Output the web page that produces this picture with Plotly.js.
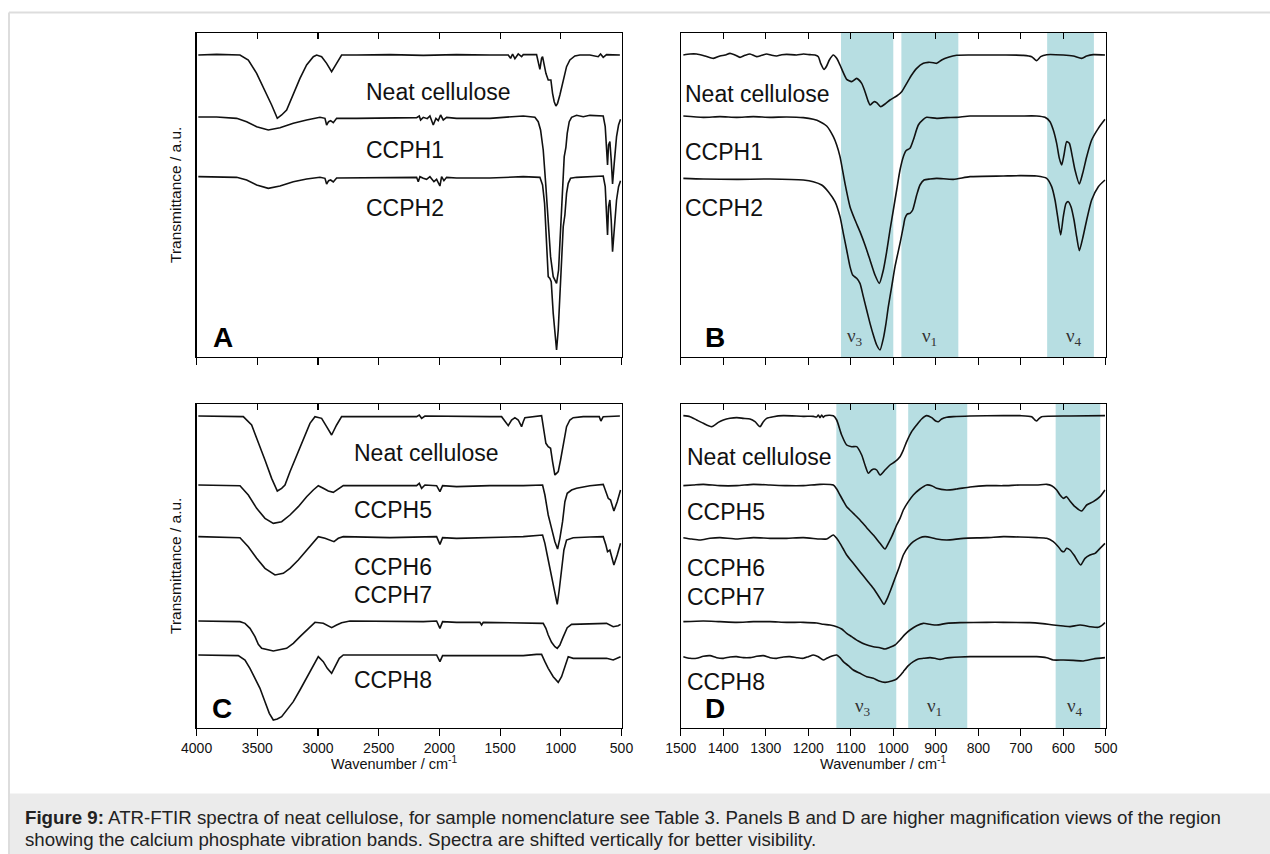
<!DOCTYPE html>
<html>
<head>
<meta charset="utf-8">
<script src="https://cdn.plot.ly/plotly-3.0.1.min.js"></script>
<style>html,body{margin:0;padding:0;background:#fff;}#chart{width:1270px;height:854px;}</style>
</head>
<body>
<div id="chart"></div>
<script>
// ---------- Panel A (4000-500 cm-1) ----------
const A_neat_x = [3985.8,3834.8,3642.7,3574.0,3505.4,3437.0,3381.9,3335.2,3299.5,3258.4,3203.4,3148.5,3093.7,3038.5,3011.3,2970.1,2929.0,2887.8,2846.6,2805.4,2681.9,2407.4,2132.9,1858.4,1583.9,1432.9,1413.7,1397.2,1378.1,1350.6,1323.1,1309.4,1199.6,1180.4,1172.2,1158.4,1150.2,1139.2,1122.7,1103.6,1081.6,1067.9,1054.2,1040.4,1026.7,1007.6,980.0,952.6,925.1,884.0,842.8,760.4,691.8,672.6,650.6,623.2,513.3];
const A_neat_y = [90.6,90.8,90.6,89.1,85.1,80.1,75.6,71.6,72.6,74.1,79.1,83.6,87.6,90.1,90.6,90.1,88.1,85.6,88.1,90.6,90.6,90.7,90.5,90.7,90.6,90.6,89.6,90.9,89.5,90.9,90.1,90.7,90.7,88.1,86.3,89.6,90.1,88.1,85.1,83.1,83.1,79.1,76.6,75.3,76.1,78.6,83.1,87.1,89.1,90.3,90.6,90.6,90.1,90.9,89.9,90.7,90.6];
const A_ccph1_x = [3985.8,3834.8,3670.1,3587.7,3505.4,3409.3,3313.3,3203.4,3093.7,2983.8,2942.7,2929.0,2912.5,2896.0,2874.1,2846.6,2681.9,2407.4,2187.8,2165.8,2154.9,2132.9,2100.0,2078.0,2050.6,2028.6,2009.4,1990.2,1968.2,1940.8,1858.4,1583.9,1309.4,1213.3,1185.9,1166.6,1144.7,1122.7,1103.6,1084.3,1062.4,1034.9,1018.4,1001.9,985.5,971.8,958.0,947.1,930.6,911.4,870.2,815.3,760.4,650.6,634.1,623.2,615.0,606.7,595.7,584.7,573.7,560.0,540.8,524.3,507.8];
const A_ccph1_y = [72.0,72.0,71.6,70.6,69.1,68.1,68.8,70.1,71.1,71.9,71.6,69.6,70.6,70.9,70.3,71.6,71.6,71.8,71.8,72.3,71.1,71.9,71.5,72.3,69.6,71.6,70.9,72.6,71.1,71.9,71.6,71.6,72.3,71.9,70.6,68.1,62.1,51.1,40.1,30.1,24.1,22.1,26.1,38.1,52.1,60.1,62.9,67.1,70.6,71.9,72.5,72.1,72.5,72.3,69.1,60.1,57.6,63.6,64.6,59.1,51.9,58.1,66.1,69.6,71.3];
const A_ccph2_x = [3985.8,3834.8,3670.1,3587.7,3505.4,3409.3,3313.3,3203.4,3093.7,2983.8,2942.7,2929.0,2912.5,2896.0,2874.1,2846.6,2681.9,2407.4,2187.8,2174.1,2160.4,2132.9,2105.5,2078.0,2045.1,2023.1,1995.7,1981.9,1962.7,1940.8,1858.4,1583.9,1309.4,1172.2,1150.2,1133.7,1117.3,1103.6,1089.8,1078.8,1062.4,1048.6,1034.9,1021.2,1007.6,993.7,980.0,966.3,952.6,938.8,919.6,870.2,760.4,650.6,634.1,623.2,615.0,606.7,595.7,584.7,573.7,560.0,540.8,524.3,507.8];
const A_ccph2_y = [54.1,53.9,53.9,53.1,51.6,50.6,51.3,52.6,53.4,53.9,53.6,51.9,52.9,53.1,52.5,53.7,53.7,53.9,53.9,52.6,54.1,53.6,53.3,54.1,52.6,53.3,51.3,54.1,52.9,53.9,53.7,53.7,54.1,53.9,51.6,46.1,36.1,24.1,23.6,22.6,13.1,6.1,2.1,8.1,18.1,28.1,39.1,42.6,49.1,52.1,53.6,53.9,54.1,54.3,51.1,42.1,36.6,45.1,47.1,41.1,31.6,38.1,47.1,51.1,52.9];

// ---------- Panel B (1500-500 cm-1) ----------
const B_neat_x = [1494.0,1478.3,1462.7,1443.1,1423.4,1407.8,1396.0,1384.2,1372.5,1360.7,1349.0,1337.2,1321.5,1309.7,1298.0,1286.2,1274.4,1262.7,1250.9,1227.4,1211.7,1196.0,1184.2,1176.4,1170.9,1163.0,1156.8,1150.5,1141.1,1133.2,1125.4,1117.6,1109.7,1098.0,1086.2,1074.4,1066.6,1058.7,1054.8,1045.4,1039.1,1029.7,1019.5,1007.8,992.1,980.3,968.5,956.8,945.0,929.3,917.6,905.8,898.0,886.2,870.5,850.9,819.5,780.3,741.1,694.1,674.4,662.7,653.3,639.1,600.0,576.4,556.8,545.0,529.4,501.9];
const B_neat_y = [90.6,90.9,90.9,90.3,89.6,90.3,90.6,91.1,90.6,89.9,90.5,90.9,90.1,90.5,90.9,90.5,90.3,90.7,90.8,90.6,90.9,90.7,90.6,90.1,88.1,86.3,87.3,89.1,90.6,89.6,87.6,85.3,83.3,82.6,83.6,82.1,79.6,76.6,75.6,76.6,76.3,75.1,75.9,77.1,78.3,79.6,82.1,84.6,86.6,88.1,88.4,88.3,88.1,89.1,89.9,90.5,90.6,90.6,90.6,90.5,90.1,88.9,90.1,90.7,90.6,90.3,89.6,90.3,90.7,90.6];
const B_ccph1_x = [1494.0,1447.0,1407.8,1368.5,1329.3,1290.1,1250.9,1211.7,1188.2,1172.5,1156.8,1141.1,1133.2,1125.4,1113.7,1101.9,1090.1,1078.4,1066.6,1054.8,1043.1,1032.9,1023.4,1015.6,1007.8,999.9,992.1,984.2,976.4,970.1,960.7,952.9,941.1,929.3,921.5,898.0,874.4,850.9,819.5,780.3,741.1,701.9,662.7,643.1,631.3,623.5,615.6,609.3,603.8,598.4,592.1,585.8,578.7,572.5,562.3,554.4,545.0,533.3,517.6,501.9];
const B_ccph1_y = [72.3,71.9,72.1,71.9,72.1,71.9,72.0,71.8,71.3,70.6,69.3,66.1,63.6,60.1,52.1,45.1,41.1,37.6,33.6,29.1,24.6,22.1,26.1,31.6,38.1,44.1,50.1,56.1,60.1,61.9,62.6,65.1,69.6,71.3,71.9,71.6,71.8,71.9,72.3,72.3,72.3,72.3,72.3,71.9,70.6,68.1,64.1,59.6,57.6,60.6,64.6,64.1,60.1,56.1,51.9,55.1,60.1,65.1,68.6,71.3];
const B_ccph2_x = [1494.0,1447.0,1368.5,1290.1,1211.7,1188.2,1168.5,1152.9,1137.2,1125.4,1117.6,1109.7,1101.9,1095.6,1086.2,1078.4,1070.5,1062.7,1054.8,1047.0,1039.1,1031.3,1023.4,1017.2,1011.7,1003.8,996.0,984.2,976.4,972.5,967.0,960.7,954.4,945.0,937.2,927.8,913.6,898.0,858.7,819.5,741.1,701.9,662.7,639.1,627.4,619.5,613.3,606.2,600.0,593.6,588.2,581.9,574.8,568.6,562.3,554.4,545.0,533.3,517.6,501.9];
const B_ccph2_y = [53.6,53.4,53.3,53.4,53.1,52.6,51.6,49.6,46.6,42.1,37.1,32.1,27.1,24.6,23.6,22.1,18.1,14.1,10.1,6.6,3.6,2.1,5.6,10.1,15.1,21.1,27.1,34.1,39.1,41.6,42.9,43.1,44.1,48.6,51.6,53.1,53.4,53.6,53.3,54.1,54.3,54.4,54.3,53.6,51.1,47.1,42.1,36.6,42.1,46.1,46.6,45.1,41.1,36.1,31.9,35.6,41.1,47.1,51.1,53.1];

// ---------- Panel C (4000-500 cm-1) ----------
const C_neat_x = [3985.8,3779.9,3615.2,3546.6,3491.7,3436.8,3381.9,3335.2,3299.5,3272.1,3230.9,3176.0,3121.1,3066.2,3025.0,2970.1,2929.0,2887.8,2846.6,2805.4,2681.9,2407.4,2187.8,2165.8,2146.6,2119.2,1858.4,1583.9,1487.8,1460.4,1432.9,1405.5,1378.1,1350.6,1323.1,1309.4,1295.7,1158.4,1139.2,1122.7,1103.6,1084.3,1067.9,1048.6,1034.9,1021.2,1002.0,980.0,952.6,925.1,897.7,815.3,683.5,669.8,650.6,513.3];
const C_neat_y = [93.6,93.6,93.4,90.9,85.9,80.4,74.9,71.1,71.9,72.9,76.9,81.9,86.9,91.4,93.4,92.9,90.4,87.9,90.9,93.4,93.4,93.5,93.4,93.9,92.9,93.6,93.4,93.4,93.4,91.9,90.7,92.4,93.1,92.4,90.4,91.9,93.1,93.7,89.9,85.4,84.4,83.9,79.9,75.9,76.4,76.9,80.4,84.9,90.4,92.4,93.1,93.4,93.4,92.1,93.4,93.6];
const C_ccph5_x = [3985.8,3779.9,3642.7,3574.0,3505.4,3436.8,3368.2,3299.5,3230.9,3162.3,3093.7,3038.8,2997.6,2956.4,2915.3,2874.1,2832.9,2791.7,2544.7,2187.8,2165.8,2146.6,2119.2,2023.1,1995.7,1973.7,1858.4,1583.9,1309.4,1150.2,1131.0,1103.6,1076.0,1048.6,1026.6,1007.6,985.5,966.3,947.1,911.4,870.2,760.4,650.6,628.6,609.4,590.2,562.6,535.3,507.8];
const C_ccph5_y = [72.9,72.9,72.7,69.9,65.9,62.9,61.4,61.9,63.9,66.4,69.4,71.4,72.7,71.9,71.1,70.7,71.7,72.7,72.7,72.7,73.4,71.9,72.9,72.7,70.9,72.7,72.4,72.7,72.7,72.9,69.9,63.9,59.9,55.9,53.7,56.9,61.9,67.9,70.4,71.4,71.9,72.7,73.1,70.9,68.9,68.4,65.1,67.9,71.4];
const C_ccph6_x = [3985.8,3779.9,3642.7,3574.0,3505.4,3436.8,3354.4,3285.8,3230.9,3162.3,3093.7,3038.8,2997.6,2942.7,2901.5,2868.6,2832.9,2791.7,2407.4,2132.9,2023.1,1995.7,1973.7,1858.4,1583.9,1309.4,1150.2,1131.0,1111.8,1089.8,1067.9,1048.6,1029.4,1012.9,993.7,974.5,952.6,897.7,760.4,650.6,628.6,615.0,595.7,562.6,535.3,507.8];
const C_ccph6_y = [57.4,57.2,57.1,54.4,50.9,47.9,45.9,46.4,47.9,50.4,53.4,55.9,57.4,56.9,56.4,55.9,56.9,57.4,57.1,57.2,57.4,55.1,57.1,56.9,57.1,57.4,57.9,55.4,51.9,47.9,44.4,40.9,37.1,41.4,47.9,53.4,56.4,57.1,57.3,57.4,54.9,52.9,53.4,48.9,51.9,55.4];
const C_ccph7_x = [3985.8,3779.9,3642.7,3601.5,3560.3,3519.1,3491.7,3464.2,3368.2,3258.4,3203.4,3148.5,3079.9,3025.0,2956.4,2923.5,2887.8,2846.6,2805.4,2736.8,2407.4,2132.9,2023.1,1995.7,1973.7,1858.4,1666.3,1652.5,1638.8,1309.4,1144.7,1122.7,1103.6,1076.0,1048.6,1029.4,1007.6,985.5,966.3,947.1,911.4,760.4,623.2,568.3,527.2,507.8];
const C_ccph7_y = [32.1,31.9,31.9,31.4,29.9,27.4,25.1,23.9,23.1,23.9,25.4,27.4,29.9,31.7,31.4,30.7,30.1,30.9,31.6,32.1,31.9,31.9,32.1,29.9,31.9,31.7,31.7,30.9,31.7,31.6,31.4,29.9,27.9,25.7,24.4,23.9,24.9,26.9,28.7,30.1,31.1,31.3,31.4,30.4,30.7,31.1];
const C_ccph8_x = [3985.8,3779.9,3656.4,3601.5,3560.3,3519.1,3477.9,3436.8,3401.1,3368.2,3335.2,3299.5,3258.4,3203.4,3148.5,3093.7,3044.3,2997.6,2956.4,2923.5,2887.8,2860.3,2824.6,2791.7,2407.4,2132.9,2023.1,1995.7,1973.7,1858.4,1583.9,1309.4,1199.6,1158.4,1131.0,1103.6,1062.4,1021.2,993.7,966.3,938.8,897.7,760.4,623.2,568.3,507.8];
const C_ccph8_y = [21.9,21.9,21.7,20.4,17.9,14.9,11.9,7.9,4.4,2.4,2.7,3.4,5.4,7.9,11.4,14.9,18.4,21.4,19.9,17.9,16.4,18.4,20.9,21.9,21.9,21.7,21.9,19.9,21.7,21.7,21.6,21.7,22.1,22.1,19.9,17.9,15.4,13.7,15.4,18.4,21.4,20.9,20.9,20.9,20.4,21.4];

// ---------- Panel D (1500-500 cm-1) ----------
const D_neat_x = [1494.0,1478.3,1462.7,1447.0,1427.4,1411.7,1399.9,1384.2,1368.5,1352.9,1337.2,1325.4,1313.6,1305.8,1298.0,1282.3,1258.7,1211.7,1188.2,1180.3,1176.4,1172.5,1168.5,1164.6,1160.7,1141.1,1133.2,1121.5,1109.7,1098.0,1086.2,1074.4,1066.6,1058.7,1050.9,1045.4,1039.1,1031.3,1019.5,1007.8,996.0,984.2,976.4,968.5,956.8,945.0,933.3,921.5,909.7,900.3,894.0,886.2,874.4,858.7,819.5,741.1,701.9,674.4,666.6,662.7,656.4,650.9,584.2,501.9];
const D_neat_y = [93.7,93.4,92.4,91.4,90.4,91.7,92.4,92.9,93.1,92.9,92.7,91.9,90.4,91.9,92.9,93.4,93.7,93.5,93.5,93.3,93.9,93.1,93.9,93.2,93.7,93.7,92.4,87.9,84.9,84.4,84.4,81.9,78.9,76.4,77.4,77.7,77.4,75.9,77.4,78.9,79.9,81.4,83.4,85.9,88.9,90.9,92.7,93.7,93.1,92.1,91.9,92.7,93.2,93.4,93.6,93.7,93.7,93.4,92.4,92.1,92.9,93.4,93.6,93.7];
const D_ccph5_x = [1494.0,1470.5,1447.0,1407.8,1368.5,1329.3,1290.1,1250.9,1211.7,1172.5,1141.1,1133.2,1125.4,1117.6,1109.7,1094.1,1078.4,1062.7,1047.0,1031.3,1019.5,1011.7,1003.8,992.1,984.2,976.4,964.6,952.9,937.2,921.5,909.7,898.0,874.4,850.9,819.5,780.3,741.1,701.9,662.7,639.1,627.4,615.6,607.8,600.0,592.1,584.2,572.5,556.8,545.0,529.4,513.6,501.9];
const D_ccph5_y = [72.7,72.9,73.1,72.7,72.7,73.1,72.9,72.7,72.7,73.1,72.9,71.7,69.9,68.1,66.4,64.4,62.4,60.1,57.9,55.4,53.7,55.4,57.4,60.9,62.9,65.4,67.9,69.9,71.7,72.9,72.7,71.9,71.4,71.7,72.3,72.7,72.7,72.9,72.9,73.1,72.7,71.4,69.9,68.9,69.4,68.1,66.4,65.1,66.9,67.9,69.4,71.4];
const D_ccph6_x = [1494.0,1474.4,1454.8,1431.3,1407.8,1368.5,1329.3,1290.1,1250.9,1211.7,1172.5,1156.8,1141.1,1133.2,1125.4,1117.6,1109.7,1094.1,1078.4,1062.7,1047.0,1031.3,1021.9,1014.0,1006.2,996.0,985.8,976.4,964.6,952.9,937.2,925.4,909.7,898.0,874.4,835.2,780.3,741.1,701.9,662.7,639.1,623.5,611.7,603.8,598.4,592.1,584.2,574.8,559.1,548.9,537.2,525.4,513.6,501.9];
const D_ccph6_y = [57.1,56.7,56.4,56.9,57.1,56.7,57.1,56.9,56.9,57.1,56.7,56.7,57.9,56.9,55.4,53.7,51.9,49.4,46.9,44.4,41.9,38.9,37.1,38.9,41.4,44.9,48.4,51.9,54.4,55.9,57.1,57.4,57.1,56.7,56.4,56.9,57.1,57.4,57.3,57.1,56.9,55.9,54.4,53.1,52.9,53.9,53.4,51.9,48.9,50.9,51.9,52.4,53.9,55.4];
const D_ccph7_x = [1494.0,1447.0,1407.8,1368.5,1329.3,1290.1,1250.9,1211.7,1180.3,1164.6,1149.0,1133.2,1121.5,1109.7,1098.0,1082.3,1066.6,1047.0,1031.3,1019.5,1007.8,996.0,984.2,972.5,960.7,945.0,929.3,913.6,898.0,874.4,843.1,780.3,741.1,678.4,654.8,623.5,600.0,584.2,560.7,537.2,517.6,509.8,501.9];
const D_ccph7_y = [31.9,32.1,31.9,31.7,31.9,31.9,31.7,31.7,31.5,31.1,30.9,30.4,29.7,28.4,27.4,26.1,25.1,24.4,24.1,23.7,24.2,24.9,26.4,28.1,29.4,30.7,31.4,31.1,30.9,31.4,31.6,31.7,31.7,31.6,31.4,30.9,30.6,30.4,30.9,30.4,30.2,30.7,31.6];
const D_ccph8_x = [1494.0,1478.3,1462.7,1447.0,1431.3,1415.6,1399.9,1384.2,1368.5,1352.9,1337.2,1321.5,1305.8,1290.1,1274.4,1258.7,1243.1,1227.4,1211.7,1199.9,1188.2,1176.4,1164.6,1156.8,1149.0,1133.2,1125.4,1117.6,1105.8,1094.1,1078.4,1062.7,1047.0,1035.2,1019.5,1003.8,992.1,984.2,976.4,964.6,952.9,941.1,929.3,913.6,902.0,890.1,878.4,866.6,843.1,819.5,741.1,662.7,639.1,623.5,600.0,576.4,552.8,529.4,501.9];
const D_ccph8_y = [21.4,20.9,20.9,21.5,21.7,21.1,20.9,21.3,21.4,21.1,21.1,21.5,21.7,21.1,20.9,21.3,21.4,21.1,20.9,21.4,21.9,21.4,20.4,20.9,21.4,21.9,21.1,19.9,18.7,17.4,16.4,15.4,14.9,14.2,13.7,14.1,14.7,15.7,16.9,18.7,19.9,20.7,20.9,21.1,20.9,20.6,20.9,21.1,21.3,21.4,21.4,21.4,21.1,20.4,20.4,20.3,20.1,20.7,21.1];

// ---------- Labels, bands ----------
const labelsA = ['Neat cellulose','CCPH1','CCPH2'];
const labelsA_y = [79.6, 62.1, 44.6];
const labelsC = ['Neat cellulose','CCPH5','CCPH6','CCPH7','CCPH8'];
const labelsC_y = [82.4, 65.4, 48.4, 39.9, 14.4];
const labelsD_y = [81.4, 64.7, 47.9, 39.4, 13.9];
const labelsB_y = [78.9, 61.6, 44.6];
const bandNames = ['ν<sub>3</sub>','ν<sub>1</sub>','ν<sub>4</sub>'];
const bandsB = [[1123,1000],[981,847],[638,528]];
const bandsD = [[1134,993],[965,826],[618,513]];
const bandLabelB_x = [1090, 914, 575];
const bandLabelD_x = [1072, 902, 572];
const panelNames = ['A','B','C','D'];
const wideTicks = [4000,3500,3000,2500,2000,1500,1000,500];
const narrowTicks = [1500,1400,1300,1200,1100,1000,900,800,700,600,500];

const FONT = 'Liberation Sans, Arial, Helvetica, sans-serif';
const W = 1270, H = 854;
const px = v => v / W, py = v => 1 - v / H;

const dom = {
  xL: [px(196.6), px(621.5)], xR: [px(680.8), px(1105.8)],
  yT: [py(357), py(33)], yB: [py(728), py(404)]
};

function line(x, y, xa, ya, smooth) {
  return {x, y, xaxis: xa, yaxis: ya, type: 'scatter', mode: 'lines', hoverinfo: 'skip', showlegend: false,
    line: {color: '#111', width: 1.6, shape: smooth ? 'spline' : 'linear', smoothing: 0.6}};
}
const traces = [
  line(A_neat_x, A_neat_y, 'x', 'y', false), line(A_ccph1_x, A_ccph1_y, 'x', 'y', false), line(A_ccph2_x, A_ccph2_y, 'x', 'y', false),
  line(B_neat_x, B_neat_y, 'x2', 'y2', true), line(B_ccph1_x, B_ccph1_y, 'x2', 'y2', true), line(B_ccph2_x, B_ccph2_y, 'x2', 'y2', true),
  line(C_neat_x, C_neat_y, 'x3', 'y3', false), line(C_ccph5_x, C_ccph5_y, 'x3', 'y3', false), line(C_ccph6_x, C_ccph6_y, 'x3', 'y3', false),
  line(C_ccph7_x, C_ccph7_y, 'x3', 'y3', false), line(C_ccph8_x, C_ccph8_y, 'x3', 'y3', false),
  line(D_neat_x, D_neat_y, 'x4', 'y4', true), line(D_ccph5_x, D_ccph5_y, 'x4', 'y4', true), line(D_ccph6_x, D_ccph6_y, 'x4', 'y4', true),
  line(D_ccph7_x, D_ccph7_y, 'x4', 'y4', true), line(D_ccph8_x, D_ccph8_y, 'x4', 'y4', true)
];
// empty traces so the top (mirror-tick) axes exist
[['x5','y'],['x6','y2'],['x7','y3'],['x8','y4']].forEach(p => traces.push({x: [], y: [], xaxis: p[0], yaxis: p[1], type: 'scatter', mode: 'lines', showlegend: false, hoverinfo: 'skip'}));

function xBottom(domain, anchor, ticks, labels) {
  return {domain, anchor, range: [ticks[0], ticks[ticks.length - 1]], tickvals: ticks, ticks: 'outside', ticklen: 7, tickwidth: 1.2,
    tickcolor: '#000', showline: true, linecolor: '#000', linewidth: 1.3, mirror: true, showgrid: false, zeroline: false,
    showticklabels: labels, tickfont: {family: FONT, size: 14, color: '#111'}, fixedrange: true};
}
function xTop(over, anchor, ticks) {
  return {overlaying: over, anchor, side: 'top', range: [ticks[0], ticks[ticks.length - 1]], tickvals: ticks, ticks: 'inside',
    ticklen: 6, tickwidth: 1.2, tickcolor: '#000', showline: false, showgrid: false, zeroline: false, showticklabels: false, fixedrange: true};
}
function yAx(domain, anchor) {
  return {domain, anchor, range: [0, 97.2], showline: true, linecolor: '#000', linewidth: 1.3, mirror: true, ticks: '',
    showticklabels: false, showgrid: false, zeroline: false, fixedrange: true};
}

const shapes = [];
bandsB.forEach(b => shapes.push({type: 'rect', xref: 'x2', yref: 'y2 domain', x0: b[0], x1: b[1], y0: 0, y1: 1, fillcolor: '#b7dee2', line: {width: 0}, layer: 'below'}));
bandsD.forEach(b => shapes.push({type: 'rect', xref: 'x4', yref: 'y4 domain', x0: b[0], x1: b[1], y0: 0, y1: 1, fillcolor: '#b7dee2', line: {width: 0}, layer: 'below'}));
// page frame + caption box
shapes.push({type: 'rect', xref: 'paper', yref: 'paper', x0: px(9), x1: 1.01, y0: py(854), y1: py(793.5), fillcolor: '#ebebeb', line: {width: 0}, layer: 'below'});
shapes.push({type: 'line', xref: 'paper', yref: 'paper', x0: px(9), x1: 1, y0: py(12.5), y1: py(12.5), line: {color: '#dddddd', width: 2}});
shapes.push({type: 'line', xref: 'paper', yref: 'paper', x0: px(9), x1: px(9), y0: py(12.5), y1: 0, line: {color: '#dddddd', width: 2}});

const ann = [];
const labFont = {family: FONT, size: 23, color: '#111'};
labelsA.forEach((t, i) => ann.push({text: t, xref: 'x', yref: 'y', x: 2618, y: labelsA_y[i], xanchor: 'left', yanchor: 'middle', showarrow: false, font: labFont}));
labelsA.forEach((t, i) => ann.push({text: t, xref: 'x2', yref: 'y2', x: 1494, y: labelsB_y[i], xanchor: 'left', yanchor: 'middle', showarrow: false, font: labFont}));
labelsC.forEach((t, i) => ann.push({text: t, xref: 'x3', yref: 'y3', x: 2722, y: labelsC_y[i], xanchor: 'left', yanchor: 'middle', showarrow: false, font: labFont}));
labelsC.forEach((t, i) => ann.push({text: t, xref: 'x4', yref: 'y4', x: 1491, y: labelsD_y[i], xanchor: 'left', yanchor: 'middle', showarrow: false, font: labFont}));
const nuFont = {family: 'Liberation Serif, Times New Roman, serif', size: 19, color: '#333'};
bandNames.forEach((t, i) => ann.push({text: t, xref: 'x2', yref: 'y2 domain', x: bandLabelB_x[i], y: 0.063, xanchor: 'center', yanchor: 'middle', showarrow: false, font: nuFont}));
bandNames.forEach((t, i) => ann.push({text: t, xref: 'x4', yref: 'y4 domain', x: bandLabelD_x[i], y: 0.066, xanchor: 'center', yanchor: 'middle', showarrow: false, font: nuFont}));
const pFont = {family: FONT, size: 28, color: '#000'};
const pPos = [[222.5, 337], [715, 337], [221.7, 708], [715, 708]];
panelNames.forEach((t, i) => ann.push({text: '<b>' + t + '</b>', xref: 'paper', yref: 'paper', x: px(pPos[i][0]), y: py(pPos[i][1]), xanchor: 'center', yanchor: 'middle', showarrow: false, font: pFont}));
const yFont = {family: FONT, size: 15.5, color: '#111'};
const xFont = {family: FONT, size: 14.5, color: '#111'};
[[195], [566]].forEach(c => ann.push({text: 'Transmittance / a.u.', xref: 'paper', yref: 'paper', x: px(175), y: py(c[0]), textangle: -90, xanchor: 'center', yanchor: 'middle', showarrow: false, font: yFont}));
[[394], [883]].forEach(c => ann.push({text: 'Wavenumber / cm<sup>-1</sup>', xref: 'paper', yref: 'paper', x: px(c[0]), y: py(763), xanchor: 'center', yanchor: 'middle', showarrow: false, font: xFont}));
const capFont = {family: FONT, size: 18.7, color: '#222'};
ann.push({text: '<b>Figure 9:</b> ATR-FTIR spectra of neat cellulose, for sample nomenclature see Table 3. Panels B and D are higher magnification views of the region', xref: 'paper', yref: 'paper', x: px(23), y: py(817), xanchor: 'left', yanchor: 'middle', showarrow: false, font: capFont});
ann.push({text: 'showing the calcium phosphate vibration bands. Spectra are shifted vertically for better visibility.', xref: 'paper', yref: 'paper', x: px(23), y: py(839.5), xanchor: 'left', yanchor: 'middle', showarrow: false, font: capFont});

const layout = {
  width: W, height: H, margin: {l: 0, r: 0, t: 0, b: 0}, paper_bgcolor: '#fff', plot_bgcolor: 'rgba(0,0,0,0)',
  showlegend: false, font: {family: FONT},
  xaxis: xBottom(dom.xL, 'y', wideTicks, false), yaxis: yAx(dom.yT, 'x'),
  xaxis2: xBottom(dom.xR, 'y2', narrowTicks, false), yaxis2: yAx(dom.yT, 'x2'),
  xaxis3: xBottom(dom.xL, 'y3', wideTicks, true), yaxis3: yAx(dom.yB, 'x3'),
  xaxis4: xBottom(dom.xR, 'y4', narrowTicks, true), yaxis4: yAx(dom.yB, 'x4'),
  xaxis5: xTop('x', 'y', wideTicks), xaxis6: xTop('x2', 'y2', narrowTicks),
  xaxis7: xTop('x3', 'y3', wideTicks), xaxis8: xTop('x4', 'y4', narrowTicks),
  shapes, annotations: ann
};
Plotly.newPlot('chart', traces, layout, {displayModeBar: false, staticPlot: true});
</script>
</body>
</html>
